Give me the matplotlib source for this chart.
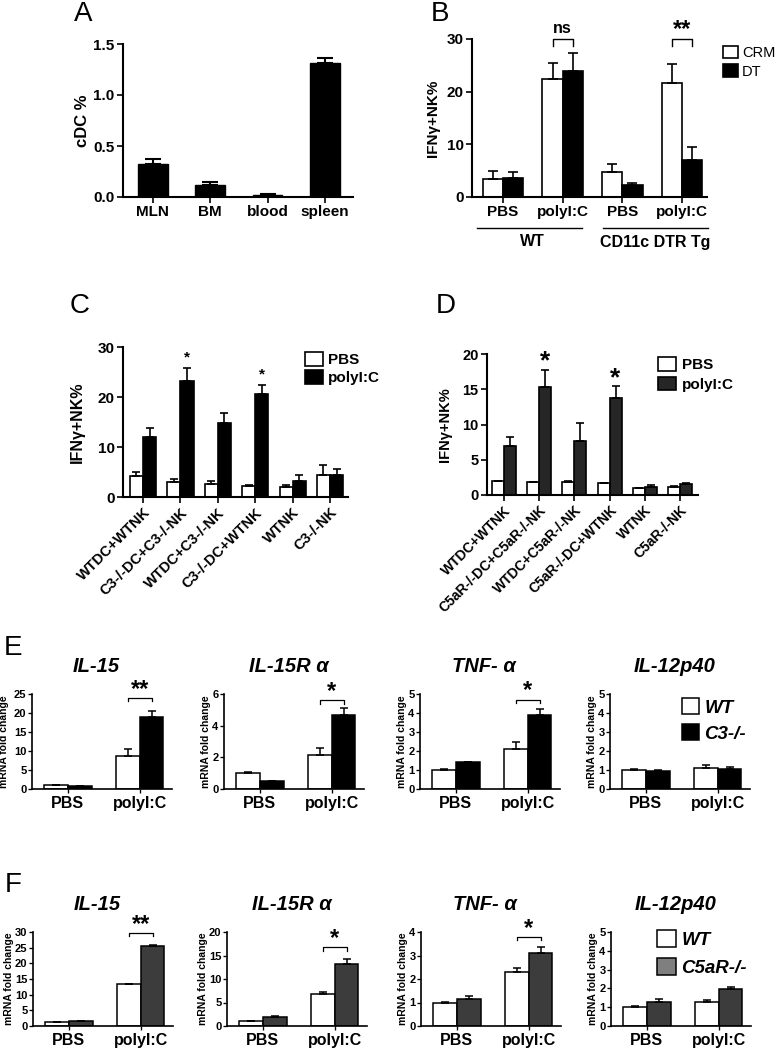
import matplotlib
matplotlib.use("Agg")
import matplotlib.pyplot as plt
import matplotlib.transforms as mtransforms
from matplotlib.patches import Patch
import numpy as np

plt.rcParams['font.family'] = ['Liberation Sans', 'DejaVu Sans']
plt.rcParams['font.weight'] = 'bold'
plt.rcParams['axes.labelweight'] = 'bold'

# ---------------- DATA ----------------
# Panel A
a_tissues = ["MLN", "BM", "blood", "spleen"]
a_cdc = [0.32, 0.12, 0.02, 1.31]
a_cdc_err = [0.05, 0.03, 0.005, 0.05]

# Panel B
b_labels = ["PBS", "polyI:C", "PBS", "polyI:C"]
b_groups = ["WT", "CD11c DTR Tg"]
b_crm = [3.4, 22.4, 4.8, 21.6]
b_crm_err = [1.5, 3.0, 1.4, 3.6]
b_dt = [3.6, 23.9, 2.2, 7.0]
b_dt_err = [1.1, 3.4, 0.5, 2.4]

# Panel C
c_labels = ["WTDC+WTNK", "C3-/-DC+C3-/-NK", "WTDC+C3-/-NK", "C3-/-DC+WTNK", "WTNK", "C3-/-NK"]
c_pbs = [4.2, 3.0, 2.7, 2.2, 2.1, 4.4]
c_pbs_err = [0.9, 0.7, 0.5, 0.2, 0.3, 2.0]
c_poly = [12.0, 23.2, 14.8, 20.6, 3.2, 4.4]
c_poly_err = [1.8, 2.6, 2.0, 1.8, 1.3, 1.2]

# Panel D
d_labels = ["WTDC+WTNK", "C5aR-/-DC+C5aR-/-NK", "WTDC+C5aR-/-NK", "C5aR-/-DC+WTNK", "WTNK", "C5aR-/-NK"]
d_pbs = [2.0, 1.8, 1.9, 1.7, 1.0, 1.2]
d_pbs_err = [0.05, 0.05, 0.05, 0.05, 0.05, 0.05]
d_poly = [6.9, 15.3, 7.7, 13.8, 1.2, 1.6]
d_poly_err = [1.3, 2.5, 2.5, 1.6, 0.2, 0.1]

# Panels E and F
genes = ["IL-15", "IL-15R α", "TNF- α", "IL-12p40"]
treatments = ["PBS", "polyI:C"]
e_wt = [[1.0, 8.6], [1.0, 2.15], [1.0, 2.1], [1.0, 1.1]]
e_wt_err = [[0.1, 1.8], [0.05, 0.45], [0.03, 0.35], [0.03, 0.15]]
e_c3 = [[0.8, 19.0], [0.5, 4.7], [1.4, 3.9], [0.95, 1.05]]
e_c3_err = [[0.05, 1.6], [0.03, 0.4], [0.03, 0.3], [0.03, 0.1]]

f_wt = [[1.2, 13.3], [1.0, 6.8], [1.0, 2.3], [1.02, 1.3]]
f_wt_err = [[0.1, 0.2], [0.1, 0.4], [0.03, 0.15], [0.03, 0.06]]
f_c5 = [[1.5, 25.5], [1.9, 13.2], [1.15, 3.1], [1.3, 1.98]]
f_c5_err = [[0.1, 0.2], [0.15, 1.0], [0.13, 0.25], [0.12, 0.12]]

e_ylims = [25, 6, 5, 5]
e_ytick_step = [5, 2, 1, 1]
f_ylims = [30, 20, 4, 5]
f_ytick_step = [5, 5, 1, 1]

# ---------------- FIGURE ----------------
W, H = 778, 1049
fig = plt.figure(figsize=(W / 100, H / 100), dpi=100)


def add_ax(l, t, r, b):
    ax = fig.add_axes([l / W, 1 - b / H, (r - l) / W, (b - t) / H])
    ax._px = (l, t, r, b)
    return ax


def style(ax, lw=1.5, fs=10, tl=4):
    for s in ['top', 'right']:
        ax.spines[s].set_visible(False)
    for s in ['left', 'bottom']:
        ax.spines[s].set_linewidth(lw)
    ax.tick_params(width=lw * 0.8, length=tl, labelsize=fs, pad=2)


def axx(ax, px):
    l, t, r, b = ax._px
    return (px - l) / (r - l)


def axy(ax, py):
    l, t, r, b = ax._px
    return (b - py) / (b - t)


def fx(px):
    return px / W


def fy(py):
    return 1 - py / H


def letter(px, py, s):
    fig.text(fx(px), fy(py), s, fontsize=20, fontweight='normal', ha='center', va='center')


def grouped(ax, n, v1, e1, v2, e2, c1, c2, w, off, capsize, lw=1.2):
    x = np.arange(n)
    b1 = ax.bar(x - off, v1, w, color=c1, edgecolor='black', linewidth=lw, zorder=2)
    b2 = ax.bar(x + off, v2, w, color=c2, edgecolor='black', linewidth=lw, zorder=2)
    ax.errorbar(x - off, v1, yerr=[np.zeros(n), e1], fmt='none', ecolor='black',
                elinewidth=lw, capsize=capsize, capthick=lw, zorder=3)
    ax.errorbar(x + off, v2, yerr=[np.zeros(n), e2], fmt='none', ecolor='black',
                elinewidth=lw, capsize=capsize, capthick=lw, zorder=3)
    return b1, b2


def bracket(ax, x1, x2, y, h, text, fs, lw=1.0, dy=0.0):
    ax.plot([x1, x1, x2, x2], [y - h, y, y, y - h], color='black', lw=lw, clip_on=False)
    ax.text((x1 + x2) / 2, y + dy, text, ha='center', va='bottom', fontsize=fs, fontweight='bold')


# ---------------- Panel A ----------------
axA = add_ax(123, 44, 353, 197)
xA = np.arange(len(a_tissues))
axA.bar(xA, a_cdc, 0.52, color='black', edgecolor='black', zorder=2)
axA.errorbar(xA, a_cdc, yerr=[np.zeros(4), a_cdc_err], fmt='none', ecolor='black',
             elinewidth=1.5, capsize=6, capthick=1.5, zorder=3)
axA.set_xlim(-0.52, 3.49)
axA.set_ylim(0, 1.5)
axA.set_yticks([0, 0.5, 1.0, 1.5])
axA.set_yticklabels(["0.0", "0.5", "1.0", "1.5"])
axA.set_xticks(xA)
axA.set_xticklabels(a_tissues)
style(axA, fs=11)
axA.set_ylabel("cDC %", fontsize=12)
axA.yaxis.set_label_coords(axx(axA, 90), 0.5)
letter(83, 14, "A")

# ---------------- Panel B ----------------
axB = add_ax(472, 39, 707, 197)
bB1, bB2 = grouped(axB, 4, b_crm, b_crm_err, b_dt, b_dt_err, 'white', 'black', 0.34, 0.17, 3.5)
axB.set_xlim(-0.52, 3.42)
axB.set_ylim(0, 30)
axB.set_yticks([0, 10, 20, 30])
axB.set_xticks(np.arange(4))
axB.set_xticklabels(b_labels)
style(axB, fs=11)
axB.set_ylabel("IFNγ+NK%", fontsize=11)
axB.yaxis.set_label_coords(axx(axB, 440), 0.5)
trB = mtransforms.blended_transform_factory(axB.transData, axB.transAxes)
yline = axy(axB, 228)
for (x1, x2), g, gx in zip([(-0.44, 1.33), (1.68, 3.44)], b_groups, [0.5, 2.55]):
    axB.plot([x1, x2], [yline, yline], color='black', lw=1.0, transform=trB, clip_on=False)
    axB.text(gx, axy(axB, 242), g, transform=trB, ha='center', va='center', fontsize=11.5)
bracket(axB, 1 - 0.17, 1 + 0.17, 30, 1.3, "ns", 11.5, dy=0.6)
bracket(axB, 3 - 0.17, 3 + 0.17, 30, 1.3, "**", 17, dy=-0.4)
axB.legend([bB1, bB2], ["CRM", "DT"], loc='upper left',
           bbox_to_anchor=(fx(723), fy(46)), bbox_transform=fig.transFigure,
           frameon=False, handlelength=1.0, handleheight=0.9, handletextpad=0.3,
           labelspacing=0.3, borderpad=0, borderaxespad=0,
           prop={'size': 10.5, 'weight': 'normal'})
letter(440, 14, "B")

# ---------------- Panel C ----------------
axC = add_ax(123, 347, 348, 497)
bC1, bC2 = grouped(axC, 6, c_pbs, c_pbs_err, c_poly, c_poly_err, 'white', 'black', 0.35, 0.175, 3)
axC.set_xlim(-0.535, 5.48)
axC.set_ylim(0, 30)
axC.set_yticks([0, 10, 20, 30])
axC.set_xticks(np.arange(6))
axC.set_xticklabels(c_labels, rotation=45, ha='right', rotation_mode='anchor')
style(axC, fs=11)
axC.tick_params(axis='x', labelsize=10.5)
axC.set_ylabel("IFNγ+NK%", fontsize=11.5)
axC.yaxis.set_label_coords(axx(axC, 85), 0.5)
for i in (1, 3):
    axC.text(i + 0.175, c_poly[i] + c_poly_err[i] + 0.8, "*", ha='center', va='bottom', fontsize=11)
axC.legend([bC1, bC2], ["PBS", "polyI:C"], loc='upper left',
           bbox_to_anchor=(fx(305), fy(352)), bbox_transform=fig.transFigure,
           frameon=False, handlelength=1.2, handleheight=1.0, handletextpad=0.3,
           labelspacing=0.2, borderpad=0, borderaxespad=0,
           prop={'size': 11, 'weight': 'bold'})
letter(80, 306, "C")

# ---------------- Panel D ----------------
axD = add_ax(487, 354, 698, 495)
bD1, bD2 = grouped(axD, 6, d_pbs, d_pbs_err, d_poly, d_poly_err, 'white', '#262626', 0.34, 0.17, 3)
axD.set_xlim(-0.48, 5.51)
axD.set_ylim(0, 20)
axD.set_yticks([0, 5, 10, 15, 20])
axD.set_xticks(np.arange(6))
axD.set_xticklabels(d_labels, rotation=45, ha='right', rotation_mode='anchor')
style(axD, fs=10.5)
axD.tick_params(axis='x', labelsize=10)
axD.set_ylabel("IFNγ+NK%", fontsize=10.5)
axD.yaxis.set_label_coords(axx(axD, 452), 0.5)
for i in (1, 3):
    axD.text(i + 0.17, d_poly[i] + d_poly_err[i] - 0.6, "*", ha='center', va='bottom', fontsize=19)
axD.legend([bD1, bD2], ["PBS", "polyI:C"], loc='upper left',
           bbox_to_anchor=(fx(658), fy(357)), bbox_transform=fig.transFigure,
           frameon=False, handlelength=1.2, handleheight=1.0, handletextpad=0.35,
           labelspacing=0.3, borderpad=0, borderaxespad=0,
           prop={'size': 11, 'weight': 'bold'})
letter(446, 306, "D")


# ---------------- Panels E & F ----------------
def small_panel(left, top, bottom, gi, wt, wt_err, ko, ko_err, ko_color, ylim, step):
    ax = add_ax(left, top, left + 140, bottom)
    b1, b2 = grouped(ax, 2, wt[gi], wt_err[gi], ko[gi], ko_err[gi], 'white', ko_color, 0.33, 0.165, 3, lw=1.1)
    ax.set_xlim(-0.5, 1.45)
    ax.set_ylim(0, ylim)
    ax.set_yticks(np.arange(0, ylim + 0.01, step))
    ax.set_xticks([0, 1])
    ax.set_xticklabels(treatments)
    style(ax, lw=1.2, fs=8, tl=3)
    ax.tick_params(axis='x', labelsize=11.5)
    ax.tick_params(axis='y', pad=1)
    ax.set_ylabel("mRNA fold change", fontsize=7.5, labelpad=1)
    ax.text(0.46, 1.0 + 28 / (bottom - top), genes[gi], transform=ax.transAxes,
            ha='center', va='center', fontsize=14.5, fontweight='bold', fontstyle='italic')
    return ax, b1, b2


e_lefts = [32, 224, 420, 610]
f_lefts = [33, 227, 421, 611]
e_sig = [(24.0, 0.9, "**"), (5.6, 0.2, "*"), (4.7, 0.17, "*"), None]
f_sig = [(29.8, 1.2, "**"), (16.8, 0.8, "*"), (3.8, 0.15, "*"), None]

for gi in range(4):
    ax, b1, b2 = small_panel(e_lefts[gi], 694, 789, gi, e_wt, e_wt_err, e_c3, e_c3_err,
                             'black', e_ylims[gi], e_ytick_step[gi])
    if gi == 0:
        ax.yaxis.set_label_coords(axx(ax, 9), 0.5)
    if e_sig[gi]:
        y, h, s = e_sig[gi]
        bracket(ax, 1 - 0.165, 1 + 0.165, y, h, s, 17, lw=0.9, dy=-h * 0.8)
    if gi == 3:
        ax.legend([b1, b2], ["WT", "C3-/-"], loc='upper left',
                  bbox_to_anchor=(fx(682), fy(698)), bbox_transform=fig.transFigure,
                  frameon=False, handlelength=0.9, handleheight=0.95, handletextpad=0.3,
                  labelspacing=0.4, borderpad=0, borderaxespad=0,
                  prop={'size': 13.5, 'weight': 'bold', 'style': 'italic'})

for gi in range(4):
    ax, b1, b2 = small_panel(f_lefts[gi], 932, 1026, gi, f_wt, f_wt_err, f_c5, f_c5_err,
                             '#3c3c3c', f_ylims[gi], f_ytick_step[gi])
    if f_sig[gi]:
        y, h, s = f_sig[gi]
        bracket(ax, 1 - 0.165, 1 + 0.165, y, h, s, 17, lw=0.9, dy=-h * 0.8)
    if gi == 3:
        b2c = Patch(facecolor='#7f7f7f', edgecolor='black', linewidth=1.1)
        ax.legend([b1, b2c], ["WT", "C5aR-/-"], loc='upper left',
                  bbox_to_anchor=(fx(657), fy(930)), bbox_transform=fig.transFigure,
                  frameon=False, handlelength=1.0, handleheight=1.05, handletextpad=0.3,
                  labelspacing=0.45, borderpad=0, borderaxespad=0,
                  prop={'size': 13.5, 'weight': 'bold', 'style': 'italic'})

letter(13, 648, "E")
letter(13, 885, "F")

fig.savefig("out.png", dpi=100)
